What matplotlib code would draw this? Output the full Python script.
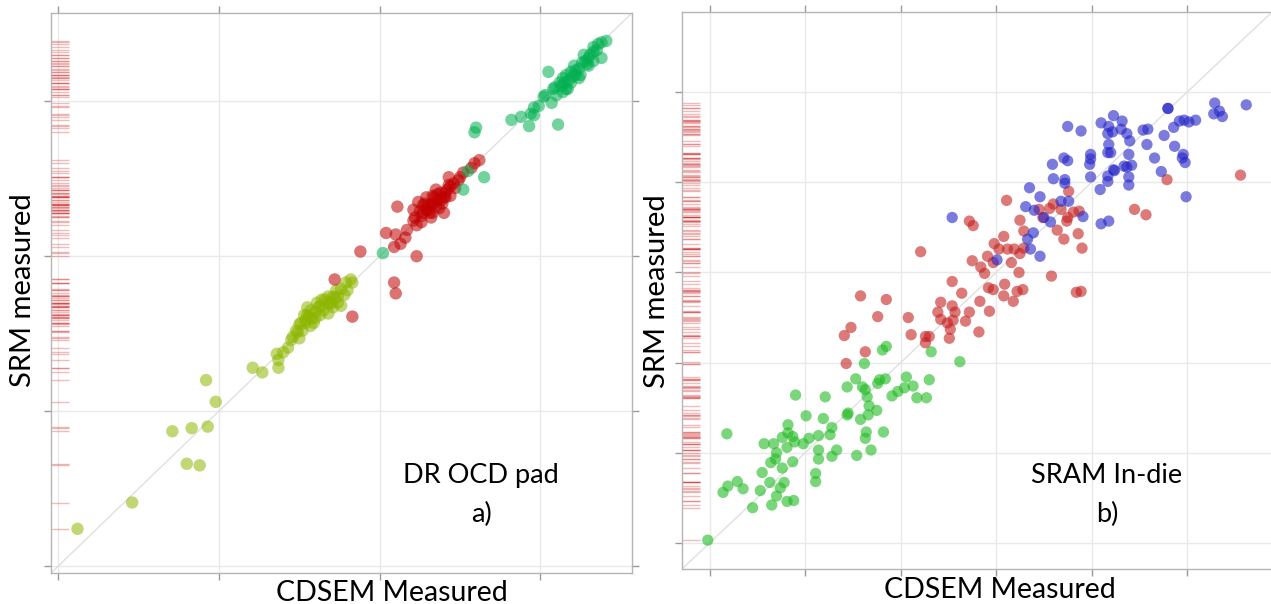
import matplotlib.pyplot as plt
import numpy as np

plt.rcParams['font.family'] = ['Lato', 'DejaVu Sans']

# ---- panel a) DR OCD pad ----
a_yg_x = [1.2, 4.6, 7.1, 8.3, 9.3, 8.0, 8.8, 9.2, 9.8, 12.1, 12.7, 13.7, 13.7, 13.6, 14.0,
          14.3, 14.6, 15.0, 14.9, 15.2, 15.4, 15.7, 15.8, 15.5, 15.3, 15.5, 16.0, 16.2, 16.3,
          16.5, 16.8, 16.8, 16.4, 17.0, 17.1, 17.4, 17.6, 17.4, 17.8, 17.6, 18.0, 17.9, 18.3,
          18.2, 17.1, 16.8, 16.1, 15.9, 15.1, 15.7, 16.3, 14.8, 14.5, 17.3, 16.6, 16.0, 15.4,
          16.9, 17.2, 15.0, 15.6]
a_yg_y = [2.4, 4.1, 8.7, 8.9, 9.0, 6.6, 6.5, 12.0, 10.6, 12.8, 12.5, 12.8, 13.3, 13.7, 13.8,
          14.1, 14.8, 14.7, 15.1, 15.2, 15.7, 15.5, 16.0, 16.2, 16.2, 16.7, 16.4, 16.7, 16.2,
          16.5, 16.3, 17.0, 17.2, 17.0, 16.7, 17.0, 16.8, 17.4, 17.5, 17.9, 17.8, 18.3, 18.3,
          18.5, 17.4, 17.4, 17.0, 15.7, 15.7, 16.5, 16.8, 15.2, 14.6, 17.8, 17.2, 16.0, 15.9,
          16.9, 17.3, 15.6, 16.1]

a_red_x = [18.8, 17.2, 18.3, 20.9, 21.0, 22.3, 20.9, 20.4, 21.0, 21.3, 21.6, 21.7, 22.1, 22.3,
           22.6, 22.2, 22.7, 22.9, 23.2, 23.3, 23.0, 23.3, 23.6, 23.4, 23.8, 23.9, 24.1, 24.2,
           24.0, 24.4, 24.6, 24.9, 25.0, 25.2, 25.7, 25.9, 26.2, 22.4, 21.1, 24.3, 23.5, 22.9,
           22.7, 23.7, 23.3, 22.1, 23.2, 23.8, 24.1, 23.1, 22.6, 24.4, 24.7, 23.5, 23.0, 24.0,
           22.8, 23.6, 24.3, 22.5]
a_red_y = [20.3, 18.5, 16.1, 18.3, 17.6, 20.0, 20.6, 21.5, 21.4, 20.8, 21.2, 21.7, 22.3, 22.0,
           22.2, 22.5, 22.8, 23.0, 22.5, 22.8, 23.3, 23.4, 23.6, 23.8, 24.1, 23.4, 23.8, 24.3,
           22.8, 24.5, 24.7, 24.9, 25.1, 25.4, 25.7, 26.0, 26.2, 23.5, 23.2, 25.1, 24.3, 23.8,
           23.3, 23.1, 23.9, 23.0, 23.3, 23.6, 24.1, 22.8, 22.6, 23.9, 24.4, 23.2, 23.0, 23.8,
           23.4, 24.0, 24.6, 22.9]

a_grn_x = [20.2, 26.5, 25.2, 25.5, 25.9, 26.0, 28.2, 28.8, 29.3, 29.4, 31.1, 29.6, 30.2, 30.3,
           30.7, 30.5, 30.8, 31.2, 31.4, 31.7, 31.6, 31.9, 32.1, 32.2, 32.4, 32.6, 32.7, 33.0,
           33.0, 33.3, 33.3, 33.6, 33.8, 34.1, 33.8, 33.3, 32.5, 31.9, 31.4, 31.0, 29.9, 29.6,
           31.6, 32.2, 32.8, 33.1, 31.3, 32.4, 33.5, 31.8, 32.0, 32.9, 31.5, 30.9]
a_grn_y = [20.2, 25.1, 24.3, 25.5, 28.0, 28.3, 28.8, 29.0, 28.4, 29.2, 28.5, 29.6, 30.3, 30.4,
           29.9, 31.9, 30.8, 31.2, 31.5, 30.8, 31.7, 31.9, 32.3, 31.7, 32.1, 32.5, 33.0, 32.3,
           32.8, 33.2, 33.5, 33.7, 33.8, 33.9, 32.8, 32.6, 31.7, 31.2, 30.6, 30.4, 29.7, 29.1,
           30.8, 32.0, 32.6, 33.0, 31.0, 31.5, 33.3, 31.4, 31.6, 32.4, 31.2, 30.9]

# ---- panel b) SRAM In-die ----
b_grn_x = [-0.2, 1.8, 1.4, 1.9, 2.9, 3.5, 4.5, 5.3, 6.3, 5.5, 6.5, 7.0, 7.4, 7.8, 8.1, 8.8,
           6.4, 6.9, 7.0, 7.6, 8.1, 8.7, 5.7, 6.7, 7.6, 8.2, 8.2, 8.7, 8.9, 9.8, 9.0, 10.1,
           10.4, 11.4, 11.4, 11.4, 11.1, 11.1, 12.8, 13.3, 12.6, 12.8, 11.9, 12.1, 14.4, 14.5,
           15.8, 14.4, 15.3, 16.0, 16.2, 16.3, 16.5, 16.7, 16.6, 17.5, 16.4, 16.3, 16.9, 18.2,
           15.4, 17.6, 17.8, 18.4, 18.1, 18.5, 19.1, 19.7, 20.4, 20.6, 21.3, 21.7, 22.7, 23.0,
           23.2, 26.2]
b_grn_y = [0.3, 12.1, 5.6, 6.3, 6.8, 6.0, 3.9, 5.8, 6.7, 7.8, 4.2, 5.2, 6.1, 6.7, 4.6, 4.7,
           8.9, 9.3, 10.0, 8.3, 10.6, 9.0, 11.0, 11.0, 11.7, 12.2, 13.1, 11.8, 11.2, 11.0, 16.4,
           14.1, 11.6, 11.9, 10.3, 9.3, 7.7, 6.8, 9.6, 10.3, 12.0, 12.8, 13.8, 16.2, 14.2, 14.4,
           13.7, 17.3, 18.2, 17.3, 19.9, 17.0, 16.2, 15.2, 14.2, 14.7, 12.3, 11.6, 10.3, 12.3,
           9.7, 17.7, 18.1, 18.2, 21.4, 21.8, 16.3, 16.8, 17.2, 18.4, 17.4, 16.1, 16.1, 18.1,
           21.2, 20.1]

b_red_x = [15.8, 18.5, 17.6, 14.8, 14.1, 22.1, 20.8, 21.1, 22.6, 23.0, 22.6, 25.1, 24.2, 23.9,
           25.4, 24.2, 25.7, 25.5, 24.9, 25.2, 26.8, 27.2, 26.4, 25.4, 28.3, 28.2, 29.3, 29.2,
           29.7, 30.9, 30.8, 32.2, 31.8, 32.8, 32.4, 31.6, 29.7, 28.8, 28.4, 27.5, 29.1, 29.8,
           30.8, 30.3, 31.2, 31.9, 32.5, 32.9, 32.5, 32.9, 31.1, 27.2, 27.6, 35.8, 38.4, 38.9,
           38.6, 39.0, 37.1, 36.4, 37.4, 37.6, 34.5, 35.6, 36.0, 34.9, 36.8, 37.5, 38.1, 38.7,
           47.9, 55.6, 44.5, 45.7, 16.3, 14.3]
b_red_y = [27.4, 27.0, 25.1, 23.9, 23.0, 32.3, 25.0, 23.1, 22.9, 22.9, 22.2, 22.7, 26.7, 25.6,
           26.3, 24.8, 25.6, 24.7, 24.4, 23.7, 24.6, 25.6, 27.7, 29.0, 26.8, 23.4, 25.7, 28.3,
           28.1, 28.7, 27.4, 27.9, 26.8, 28.1, 30.0, 31.1, 31.1, 29.9, 30.6, 31.3, 31.8, 33.2,
           34.0, 32.6, 32.6, 32.6, 32.1, 32.7, 35.8, 34.6, 38.0, 35.7, 35.2, 29.6, 27.8, 27.9,
           34.3, 32.7, 33.7, 34.7, 35.7, 39.0, 37.0, 37.1, 37.6, 36.1, 37.0, 36.1, 36.7, 36.8,
           40.3, 40.8, 37.0, 36.4, 21.2, 19.9]

b_blu_x = [37.5, 38.9, 41.0, 42.3, 43.2, 41.8, 41.7, 42.2, 43.1, 43.7, 44.0, 41.8, 41.7, 42.0,
           39.9, 39.9, 39.8, 43.9, 45.4, 45.9, 45.8, 47.6, 48.0, 48.0, 48.6, 49.2, 49.7, 50.2,
           50.9, 48.7, 49.6, 49.5, 49.8, 46.6, 47.3, 49.9, 52.9, 52.8, 53.4, 53.7, 56.2, 35.9,
           37.1, 37.5, 36.0, 37.2, 37.2, 39.9, 41.7, 41.7, 42.4, 43.4, 43.7, 44.2, 43.9, 43.9,
           40.9, 41.0, 41.8, 33.5, 34.6, 33.1, 34.0, 36.8, 37.6, 35.0, 35.7, 39.1, 33.9, 33.3,
           33.6, 34.6, 30.1, 25.4, 42.3]
b_blu_y = [46.2, 45.7, 46.6, 47.4, 46.8, 46.2, 45.4, 45.6, 45.9, 45.4, 44.6, 44.2, 43.3, 43.3,
           43.1, 42.6, 42.0, 43.1, 45.8, 45.9, 44.2, 45.2, 48.2, 48.2, 46.1, 46.8, 46.9, 46.7,
           46.9, 44.0, 43.1, 42.7, 42.2, 42.7, 41.2, 38.4, 48.8, 47.6, 47.9, 47.3, 48.6, 42.0,
           42.7, 42.4, 40.4, 40.3, 39.9, 40.6, 40.7, 40.1, 41.3, 41.8, 41.7, 41.9, 40.6, 39.7,
           39.2, 35.4, 35.7, 39.4, 38.4, 37.3, 36.9, 37.9, 37.9, 36.1, 35.6, 36.2, 34.4, 33.7,
           32.6, 31.8, 31.4, 36.1, 41.4]

a_ticks = [0, 10, 20, 30]
a_lim = (-0.45, 35.7)
b_ticks = [0, 10, 20, 30, 40, 50]
b_lim = (-2.9, 58.9)

W, H = 1271, 604
fig = plt.figure(figsize=(W / 100, H / 100), dpi=100)


def panel(rect, ticks, lim, groups, size, rug_y, right_spine):
    ax = fig.add_axes(rect)
    ax.set_xlim(lim)
    ax.set_ylim(lim)
    ax.set_xticks(ticks)
    ax.set_yticks(ticks)
    ax.set_xticklabels([])
    ax.set_yticklabels([])
    ax.grid(True, color='#e9e9e9', lw=1, zorder=0)
    ax.set_axisbelow(True)
    ax.tick_params(direction='out', length=5, width=1, color='#9a9a9a',
                   top=True, bottom=True, left=True, right=right_spine)
    for s in ax.spines.values():
        s.set_color('#b5b5b5')
        s.set_linewidth(1)
    ax.spines['right'].set_visible(right_spine)
    ax.axline((0, 0), slope=1, color='#e0e0e0', lw=1, zorder=1)
    # rug of measured values along the y axis
    ax.hlines(rug_y, 0, 0.031, transform=ax.get_yaxis_transform(),
              color='#cc1111', alpha=0.28, lw=1, zorder=1)
    for x, y, c, a in groups:
        ax.scatter(x, y, s=size, color=c, alpha=a, edgecolors='none', zorder=3)
    return ax


a_all_y = a_yg_y + a_red_y + a_grn_y
ax1 = panel([51 / W, 1 - 573 / H, 581 / W, 560 / H], a_ticks, a_lim,
            [(a_yg_x, a_yg_y, '#8db600', 0.55),
             (a_red_x, a_red_y, '#c00000', 0.55),
             (a_grn_x, a_grn_y, '#00b050', 0.55)],
            80, a_all_y, True)

b_all_y = b_grn_y + b_red_y + b_blu_y
ax2 = panel([682 / W, 1 - 569 / H, 590 / W, 557 / H], b_ticks, b_lim,
            [(b_grn_x, b_grn_y, '#22bb22', 0.6),
             (b_red_x, b_red_y, '#c52020', 0.6),
             (b_blu_x, b_blu_y, '#2424c8', 0.6)],
            66, b_all_y, False)

# axis labels and panel captions
fig.text(392 / W, 1 - 601 / H, 'CDSEM Measured', ha='center', va='baseline', fontsize=20.5)
fig.text(1000 / W, 1 - 598 / H, 'CDSEM Measured', ha='center', va='baseline', fontsize=20.5)
fig.text(23 / W, 1 - 290 / H, 'SRM measured', rotation=90, ha='center', va='center', fontsize=21)
fig.text(657 / W, 1 - 291 / H, 'SRM measured', rotation=90, ha='center', va='center', fontsize=21)

fig.text(481 / W, 1 - 483 / H, 'DR OCD pad', ha='center', va='baseline', fontsize=19.5)
fig.text(482 / W, 1 - 522 / H, 'a)', ha='center', va='baseline', fontsize=19.5)
fig.text(1107 / W, 1 - 483 / H, 'SRAM In-die', ha='center', va='baseline', fontsize=19.5)
fig.text(1107 / W, 1 - 522 / H, 'b)', ha='center', va='baseline', fontsize=19.5)

fig.savefig('out.png', dpi=100)
